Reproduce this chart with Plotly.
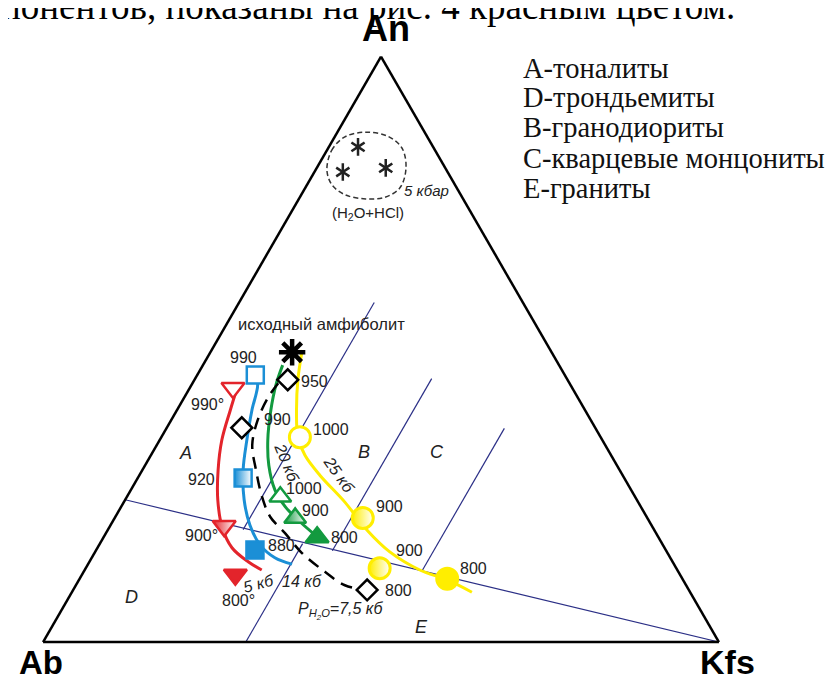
import plotly.graph_objects as go

# reference canvas; the page body adds an 8px margin, so the figure is drawn 8px smaller
W, H = 837, 677
PAD = 8
FIG_W, FIG_H = W - PAD, H - PAD

RED = "#e3242b"
BLUE = "#1b8fd6"
GREEN = "#139a3f"
YELLOW = "#ffee00"
NAVY = "#2b2f86"
INK = "#222222"

# all compositions are (An, Ab, Kfs), %
# classification field boundaries
line_td = [(24.3, 75.7, 0.0), (0.0, 0.0, 100.0)]
line_ab = [(58.0, 22.0, 20.0), (19.2, 60.8, 20.0)]
line_de = [(16.8, 53.2, 30.0), (0.0, 70.0, 30.0)]
line_bc = [(45.0, 20.0, 35.0), (15.6, 49.4, 35.0)]
line_c = [(36.5, 13.5, 50.0), (12.0, 38.0, 50.0)]

# H2O+HCl experiments, 5 kbar
hcl_field = [(80.6, 17.7, 1.7), (84.0, 15.3, 0.7), (86.3, 12.2, 1.5), (87.1, 8.7, 4.2),
             (86.4, 5.8, 7.8), (84.4, 4.7, 10.9), (81.0, 5.8, 13.2), (77.6, 8.4, 14.0),
             (76.0, 11.4, 12.6), (75.7, 14.4, 9.9), (76.4, 17.1, 6.5), (78.1, 18.2, 3.7),
             (80.6, 17.7, 1.7)]
hcl_points = [(84.6, 11.1, 4.3), (80.3, 15.5, 4.2), (81.0, 8.8, 10.2)]

# starting amphibolite
amphibolite = [(49.5, 38.4, 12.1)]

# melt trends
curve_5kb = [(43.9, 49.2, 6.9), (39.6, 52.5, 7.9), (34.5, 56.3, 9.2), (29.4, 59.4, 11.2),
             (24.3, 62.0, 13.7), (19.6, 63.7, 16.7), (16.1, 64.0, 19.9), (13.7, 62.8, 23.5),
             (12.3, 61.5, 26.2)]
curve_14kb = [(45.6, 45.8, 8.6), (43.9, 46.3, 9.8), (39.6, 49.3, 11.1), (34.5, 52.6, 12.9),
              (29.4, 55.7, 14.9), (24.3, 58.1, 17.6), (20.0, 59.4, 20.6), (16.6, 59.6, 23.8),
              (14.4, 58.5, 27.1), (13.3, 56.5, 30.2)]
curve_20kb = [(47.3, 40.9, 11.8), (43.9, 43.6, 12.5), (39.6, 46.5, 13.9), (34.5, 49.5, 16.0),
              (30.2, 51.5, 18.3), (26.0, 52.7, 21.3), (23.1, 52.6, 24.3), (20.5, 51.7, 27.8),
              (17.9, 50.4, 31.7)]
curve_25kb = [(49.9, 36.7, 13.4), (44.8, 39.9, 15.3), (39.6, 42.7, 17.7), (35.0, 44.8, 20.2),
              (31.9, 45.3, 22.8), (28.5, 44.8, 26.7), (23.9, 43.4, 32.7), (19.1, 42.5, 38.4),
              (15.4, 41.0, 43.6), (12.3, 38.1, 49.6), (10.6, 34.9, 54.5), (8.5, 32.3, 59.2)]
curve_h2o = [(44.2, 43.1, 12.7), (41.7, 45.9, 12.4), (37.9, 49.3, 12.8), (33.7, 52.2, 14.1),
             (29.4, 53.8, 16.8), (24.8, 55.2, 20.0), (21.4, 55.7, 22.9), (18.6, 54.9, 26.5),
             (15.2, 54.1, 30.7), (12.0, 52.3, 35.7), (9.7, 50.5, 39.8), (8.9, 47.6, 43.5)]

# experimental points
red_open = [(43.4, 50.2, 6.4)]
red_half = [(19.8, 63.3, 16.9)]
red_full = [(11.5, 65.8, 22.7)]
blue_open = [(45.6, 45.8, 8.6)]
blue_half = [(28.0, 56.4, 15.6)]
blue_full = [(15.7, 60.8, 23.5)]
green_open = [(24.8, 52.5, 22.7)]
green_half = [(21.2, 52.1, 26.7)]
green_full = [(17.9, 50.5, 31.6)]
yellow_open = [(35.0, 44.5, 20.5)]
yellow_half = [(21.2, 42.1, 36.7), (12.6, 43.9, 43.5)]
yellow_full = [(10.8, 34.8, 54.4)]
diamonds = [(44.8, 41.4, 13.8), (36.6, 52.3, 11.1), (8.9, 47.6, 43.5)]

legend_lines = ["A-тоналиты", "D-трондьемиты", "B-гранодиориты",
                "C-кварцевые монцониты", "E-граниты"]


def split(points):
    return ([p[0] for p in points], [p[1] for p in points], [p[2] for p in points])


def paper_x(px):
    return (px - PAD) / FIG_W


def paper_y(py):
    return 1 - (py - PAD) / FIG_H


fig = go.Figure()


def add_line(points, color, width, dash="solid", shape="linear"):
    a, b, c = split(points)
    fig.add_trace(go.Scatterternary(
        a=a, b=b, c=c, mode="lines", hoverinfo="skip",
        line=dict(color=color, width=width, dash=dash, shape=shape),
    ))


def add_marker(points, symbol, size, fill, edge, width=2.5, half=False):
    a, b, c = split(points)
    marker = dict(symbol=symbol, size=size, color=fill, line=dict(color=edge, width=width))
    if half:
        marker["gradient"] = dict(type="horizontal", color="white")
    fig.add_trace(go.Scatterternary(a=a, b=b, c=c, mode="markers", hoverinfo="skip", marker=marker))


for ln in [line_td, line_ab, line_de, line_bc, line_c]:
    add_line(ln, NAVY, 1.2)

add_line(hcl_field, "#333333", 1.5, dash="5px,3px", shape="spline")
add_marker(hcl_points, "y-up-open", 11, INK, INK, width=2.5)
add_marker(hcl_points, "y-down-open", 11, INK, INK, width=2.5)

add_line(curve_5kb, RED, 3, shape="spline")
add_line(curve_14kb, BLUE, 3, shape="spline")
add_line(curve_20kb, GREEN, 3, shape="spline")
add_line(curve_25kb, YELLOW, 3, shape="spline")
add_line(curve_h2o, "black", 2.5, dash="12px,8px", shape="spline")

add_marker(amphibolite, "asterisk-open", 22, "black", "black", width=4.5)

add_marker(red_open, "triangle-down", 20, "white", RED)
add_marker(red_half, "triangle-down", 20, RED, RED, half=True)
add_marker(red_full, "triangle-down", 20, RED, RED)
add_marker(blue_open, "square", 17, "white", BLUE)
add_marker(blue_half, "square", 17, BLUE, BLUE, half=True)
add_marker(blue_full, "square", 17, BLUE, BLUE)
add_marker(green_open, "triangle-up", 19, "white", GREEN)
add_marker(green_half, "triangle-up", 19, GREEN, GREEN, half=True)
add_marker(green_full, "triangle-up", 20, GREEN, GREEN)
add_marker(yellow_open, "circle", 21, "white", YELLOW, width=3)
add_marker(yellow_half, "circle", 21, YELLOW, YELLOW, width=3, half=True)
add_marker(yellow_full, "circle", 21, YELLOW, YELLOW, width=3)
add_marker(diamonds, "diamond", 16, "white", "black", width=2.5)

SANS = "Liberation Sans, Arial, sans-serif"
SERIF = "Liberation Serif, Times New Roman, serif"
annotations = []


def note(text, x, y, size=16, italic=False, angle=0, family=SANS, xanchor="center",
         color=INK):
    if italic:
        text = "<i>" + text + "</i>"
    annotations.append(dict(
        text=text, x=paper_x(x), y=paper_y(y), xref="paper", yref="paper",
        xanchor=xanchor, yanchor="middle", showarrow=False, textangle=angle,
        font=dict(family=family, size=size, color=color),
    ))


note("понентов, показаны на рис. 4 красным цветом.", 737, 6, size=37,
     family=SERIF, xanchor="right", color="black")
note("<b>An</b>", 386, 29, size=36, color="black")
note("<b>Ab</b>", 41, 662, size=33, color="black")
note("<b>Kfs</b>", 727, 662, size=34, color="black")

for i, t in enumerate(legend_lines):
    note(t, 521, 68 + 30 * i, size=28.5, family=SERIF, xanchor="left", color="#111")

note("5 кбар", 426, 190, size=15, italic=True)
note("(H<sub>2</sub>O+HCl)", 368, 213, size=15)
note("исходный амфиболит", 321, 324, size=16.5)

note("990", 243, 357)
note("950", 314, 381)
note("990°", 207, 404)
note("990", 277, 419)
note("1000", 331, 429)
note("920", 201, 479)
note("1000", 304, 488)
note("900", 315, 510)
note("800", 344, 537)
note("880", 281, 545)
note("900°", 201, 535)
note("800°", 238, 600)
note("900", 389, 506)
note("900", 409, 550)
note("800", 398, 590)
note("800", 473, 568)

note("5 кб", 259, 583, italic=True, angle=-15)
note("14 кб", 302, 581, italic=True)
note("20 кб", 287, 462, italic=True, angle=68)
note("25 кб", 339, 474, italic=True, angle=55)
note("P<sub>H<sub>2</sub>O</sub>=7,5 кб", 341, 611, italic=True)

note("A", 185, 453, size=18, italic=True)
note("B", 364, 452, size=18, italic=True)
note("C", 437, 452, size=18, italic=True)
note("D", 131, 597, size=18, italic=True)
note("E", 421, 627, size=18, italic=True)

axis_style = dict(title=dict(text=""), showticklabels=False, ticks="", showgrid=False,
                  showline=True, linecolor="black", linewidth=2.5)

fig.update_layout(
    width=FIG_W, height=FIG_H,
    margin=dict(l=0, r=0, t=0, b=0),
    paper_bgcolor="white",
    showlegend=False,
    hovermode=False,
    ternary=dict(
        sum=100,
        domain=dict(x=[paper_x(43), paper_x(719)], y=[paper_y(642), paper_y(56.7)]),
        bgcolor="white",
        aaxis=axis_style,
        baxis=axis_style,
        caxis=axis_style,
    ),
    annotations=annotations,
)

fig.write_html("out.html")
